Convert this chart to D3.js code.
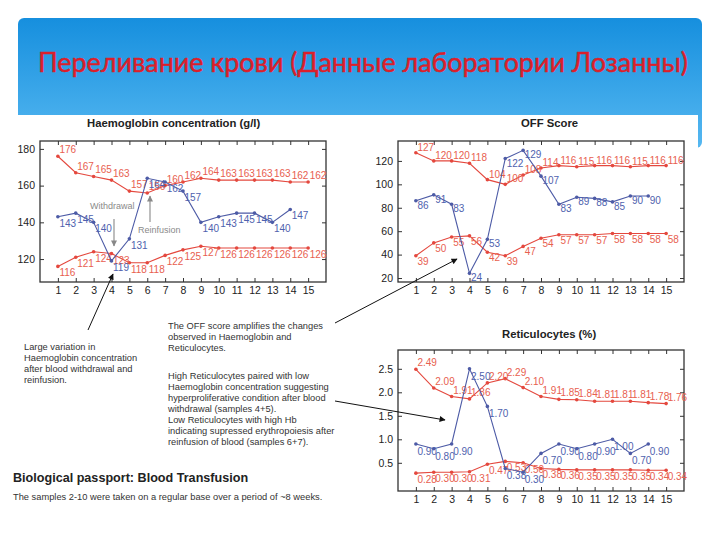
<!DOCTYPE html>
<html>
<head>
<meta charset="utf-8">
<script src="https://d3js.org/d3.v7.min.js"></script>
<style>
  body { margin: 0; background: #fff; }
  svg text { font-family: "Liberation Sans", Arial, sans-serif; }
</style>
</head>
<body>
<script>
"use strict";
// samples on the x axis
var samples = [1, 2, 3, 4, 5, 6, 7, 8, 9, 10, 11, 12, 13, 14, 15];

// Haemoglobin concentration (g/l)
var hbTop  = [176, 167, 165, 163, 157, 156, 160, 162, 164, 163, 163, 163, 163, 162, 162];
var hbBlue = [143, 145, 140, 119, 131, 164, 162, 157, 140, 143, 145, 145, 140, 147];
var hbLow  = [116, 121, 124, 123, 118, 118, 122, 125, 127, 126, 126, 126, 126, 126, 126];
var hbTicks = [120, 140, 160, 180];

// OFF score
var offTop  = [127, 120, 120, 118, 104, 100, 108, 114, 116, 115, 116, 116, 115, 116, 116];
var offBlue = [86, 91, 83, 24, 53, 122, 129, 107, 83, 89, 88, 85, 90, 90];
var offLow  = [39, 50, 55, 56, 42, 39, 47, 54, 57, 57, 57, 58, 58, 58, 58];
var offTicks = [20, 40, 60, 80, 100, 120];

// Reticulocytes (%)
var retTop  = [2.49, 2.09, 1.91, 1.86, 2.20, 2.29, 2.10, 1.91, 1.85, 1.84, 1.81, 1.81, 1.81, 1.78, 1.76];
var retBlue = [0.90, 0.80, 0.90, 2.50, 1.70, 0.38, 0.30, 0.70, 0.90, 0.80, 0.90, 1.00, 0.70, 0.90];
var retLow  = [0.28, 0.30, 0.30, 0.31, 0.47, 0.53, 0.50, 0.38, 0.36, 0.35, 0.35, 0.35, 0.35, 0.34, 0.34];
var retTicks = [0.5, 1, 1.5, 2, 2.5];

var RED = "#e4483e", RED_TXT = "#e8604f";
var BLUE = "#4d5ba6", BLUE_TXT = "#4f62ae";

var svg = d3.select("body").append("svg")
    .attr("width", 720)
    .attr("height", 540);

var defs = svg.append("defs");
var grad = defs.append("linearGradient")
    .attr("id", "banner").attr("x1", 0).attr("y1", 0).attr("x2", 0).attr("y2", 1);
grad.append("stop").attr("offset", "0%").attr("stop-color", "#168fde");
grad.append("stop").attr("offset", "100%").attr("stop-color", "#56b8f1");

function marker(id, color) {
  defs.append("marker")
      .attr("id", id)
      .attr("viewBox", "0 0 10 10")
      .attr("refX", 9).attr("refY", 5)
      .attr("markerWidth", 8).attr("markerHeight", 6)
      .attr("markerUnits", "userSpaceOnUse")
      .attr("orient", "auto")
    .append("path")
      .attr("d", "M0,0L10,5L0,10z")
      .attr("fill", color);
}
marker("arrBlack", "#111");
marker("arrGray", "#888");

/*
  Slide banner and title
*/
svg.append("rect")
    .attr("x", 18).attr("y", 18)
    .attr("width", 684).attr("height", 130)
    .attr("rx", 6)
    .attr("fill", "url(#banner)");
svg.append("rect")
    .attr("x", 15).attr("y", 115)
    .attr("width", 683).attr("height", 420)
    .attr("fill", "#fff");

var title = svg.append("text")
    .attr("x", 38).attr("y", 72)
    .style("font-family", "Lato, 'Open Sans', sans-serif")
    .style("font-size", "26px")
    .attr("fill", "#db1f2b")
    .attr("stroke", "#db1f2b")
    .attr("stroke-width", 0.5)
    .text("Переливание крови (Данные лаборатории Лозанны)");
var tw = title.node().getComputedTextLength();
title.style("font-size", (26 * 650 / tw) + "px");

/*
  One matlab-like panel
*/
function panel(o) {
  var x = d3.scaleLinear().domain([0, 16]).range([o.left, o.right]);
  var y = d3.scaleLinear().domain(o.yDomain).range([o.bottom, o.top]);
  var g = svg.append("g");

  g.append("rect")
      .attr("x", o.left).attr("y", o.top)
      .attr("width", o.right - o.left).attr("height", o.bottom - o.top)
      .attr("fill", "none").attr("stroke", "#333").attr("stroke-width", 1.3);

  var ax = [
    [d3.axisBottom(x).tickValues(samples), "translate(0," + o.bottom + ")"],
    [d3.axisTop(x).tickValues(samples).tickFormat(""), "translate(0," + o.top + ")"],
    [d3.axisLeft(y).tickValues(o.yTicks), "translate(" + o.left + ",0)"],
    [d3.axisRight(y).tickValues(o.yTicks).tickFormat(""), "translate(" + o.right + ",0)"]
  ];
  ax.forEach(function(a) {
    var sel = g.append("g").attr("transform", a[1])
        .call(a[0].tickSizeInner(-4).tickSizeOuter(0).tickPadding(5));
    sel.select(".domain").remove();
    sel.selectAll("line").attr("stroke", "#333");
    sel.selectAll("text")
        .attr("fill", "#222")
        .style("font-size", "10.5px")
        .style("font-family", "'Liberation Sans', Arial, sans-serif");
  });

  g.append("text")
      .attr("x", o.titleX).attr("y", o.titleY)
      .style("font-size", "11.3px").style("font-weight", "bold")
      .attr("fill", "#222")
      .text(o.title);

  o.series.forEach(function(s) {
    var pts = s.values.map(function(v, i) { return { s: samples[i], v: v }; });
    var line = d3.line()
        .x(function(d) { return x(d.s); })
        .y(function(d) { return y(d.v); });
    g.append("path")
        .datum(pts)
        .attr("d", line)
        .attr("fill", "none")
        .attr("stroke", s.color)
        .attr("stroke-width", 1.1);
    g.selectAll(null).data(pts).enter().append("circle")
        .attr("cx", function(d) { return x(d.s); })
        .attr("cy", function(d) { return y(d.v); })
        .attr("r", 1.8)
        .attr("fill", s.color);
    g.selectAll(null).data(pts).enter().append("text")
        .attr("x", function(d) { return x(d.s) + 1.5; })
        .attr("y", function(d) { return y(d.v) + s.dy; })
        .attr("fill", s.txt)
        .style("font-size", "10px")
        .text(function(d) { return s.fmt(d.v); });
  });
  return { x: x, y: y, g: g };
}

var fmtInt = d3.format("d"), fmt2 = d3.format(".2f");

panel({
  left: 40, right: 326, top: 141, bottom: 282,
  yDomain: [107.5, 184.3], yTicks: hbTicks,
  title: "Haemoglobin concentration (g/l)", titleX: 87, titleY: 127,
  series: [
    { values: hbTop, color: RED, txt: RED_TXT, fmt: fmtInt, dy: -3 },
    { values: hbLow, color: RED, txt: RED_TXT, fmt: fmtInt, dy: 10 },
    { values: hbBlue, color: BLUE, txt: BLUE_TXT, fmt: fmtInt, dy: 10 }
  ]
});

panel({
  left: 398, right: 684, top: 141, bottom: 282,
  yDomain: [16.6, 137], yTicks: offTicks,
  title: "OFF Score", titleX: 521, titleY: 127,
  series: [
    { values: offTop, color: RED, txt: RED_TXT, fmt: fmtInt, dy: -2 },
    { values: offLow, color: RED, txt: RED_TXT, fmt: fmtInt, dy: 9 },
    { values: offBlue, color: BLUE, txt: BLUE_TXT, fmt: fmtInt, dy: 8 }
  ]
});

panel({
  left: 398, right: 684, top: 350, bottom: 491,
  yDomain: [-0.1, 2.9], yTicks: retTicks,
  title: "Reticulocytes (%)", titleX: 502, titleY: 338,
  series: [
    { values: retTop, color: RED, txt: RED_TXT, fmt: fmt2, dy: -3 },
    { values: retLow, color: RED, txt: RED_TXT, fmt: fmt2, dy: 10 },
    { values: retBlue, color: BLUE, txt: BLUE_TXT, fmt: fmt2, dy: 11 }
  ]
});

/*
  Withdrawal / Reinfusion notes inside the Hb chart
*/
svg.append("text").attr("x", 90).attr("y", 209)
    .attr("fill", "#8a8a8a").style("font-size", "9px").text("Withdrawal");
svg.append("text").attr("x", 138).attr("y", 233)
    .attr("fill", "#8a8a8a").style("font-size", "9px").text("Reinfusion");
[[114, 219, 114, 246], [150, 222, 150, 196]].forEach(function(a) {
  svg.append("line")
      .attr("x1", a[0]).attr("y1", a[1]).attr("x2", a[2]).attr("y2", a[3])
      .attr("stroke", "#888").attr("stroke-width", 1.1)
      .attr("marker-end", "url(#arrGray)");
});

/*
  Callout arrows
*/
[[88, 330, 113, 274], [335, 323, 457, 259], [335, 401, 445, 420]].forEach(function(a) {
  svg.append("line")
      .attr("x1", a[0]).attr("y1", a[1]).attr("x2", a[2]).attr("y2", a[3])
      .attr("stroke", "#111").attr("stroke-width", 1)
      .attr("marker-end", "url(#arrBlack)");
});

/*
  Text blocks
*/
function block(x, y, lines) {
  var t = svg.append("text").attr("fill", "#333").style("font-size", "9.3px");
  lines.forEach(function(l, i) {
    t.append("tspan").attr("x", x).attr("y", y + i * 11).text(l);
  });
}
block(24, 350, ["Large variation in", "Haemoglobin concentration",
                "after blood withdrawal and", "reinfusion."]);
block(168, 329, ["The OFF score amplifies the changes", "observed in Haemoglobin and",
                 "Reticulocytes."]);
block(168, 379, ["High Reticulocytes paired with low", "Haemoglobin concentration suggesting",
                 "hyperproliferative condition after blood", "withdrawal (samples 4+5).",
                 "Low Reticulocytes with high Hb", "indicating supressed erythropoiesis after",
                 "reinfusion of blood (samples 6+7)."]);

svg.append("text").attr("x", 13).attr("y", 482)
    .attr("fill", "#222").style("font-size", "12.6px").style("font-weight", "bold")
    .text("Biological passport: Blood Transfusion");
svg.append("text").attr("x", 13).attr("y", 500)
    .attr("fill", "#333").style("font-size", "9.3px")
    .text("The samples 2-10 were taken on a regular base over a period of ~8 weeks.");
</script>
</body>
</html>
